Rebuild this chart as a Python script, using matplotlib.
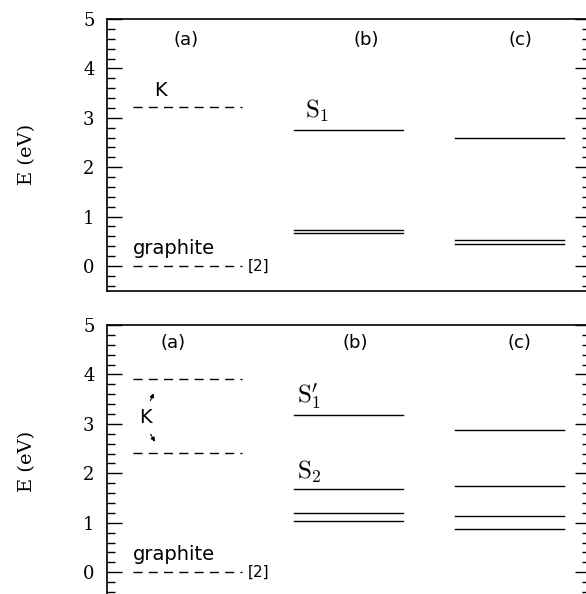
import matplotlib
matplotlib.use('Agg')
import matplotlib.pyplot as plt
from matplotlib.ticker import MultipleLocator

plt.rcParams['mathtext.fontset'] = 'cm'

# energy levels (eV)
top_a = [3.22, 0.0]            # K, graphite (dashed)
top_b = [2.75, 0.72, 0.66]     # S1 and the close pair
top_c = [2.60, 0.52, 0.45]

bot_a = [3.91, 2.41, 0.0]      # K (two), graphite (dashed)
bot_b = [3.17, 1.69, 1.19, 1.04]
bot_c = [2.88, 1.74, 1.13, 0.88]

col_centers = [0.5, 1.5, 2.5]
half_w = 0.34
panel_names = ['(a)', '(b)', '(c)']

fig = plt.figure(figsize=(5.86, 5.94), dpi=100)
ax1 = fig.add_axes([0.1826, 0.5106, 0.8244, 0.4574])
ax2 = fig.add_axes([0.1826, -0.005, 0.8244, 0.4579])

dash = (0, (6.5, 4.5))


def style(ax):
    ax.set_xlim(0, 3)
    ax.set_ylim(-0.5, 5)
    ax.yaxis.set_major_locator(MultipleLocator(1))
    ax.yaxis.set_minor_locator(MultipleLocator(0.2))
    ax.set_xticks([])
    ax.tick_params(axis='y', which='both', direction='in', left=True, right=True,
                   labelright=False, width=1.0)
    ax.tick_params(axis='y', which='major', length=11, pad=9, labelsize=13)
    ax.tick_params(axis='y', which='minor', length=5.5)
    for lab in ax.get_yticklabels():
        lab.set_fontfamily('DejaVu Serif')
    for s in ax.spines.values():
        s.set_linewidth(1.2)
    ax.set_ylabel('E (eV)', fontsize=14, family='DejaVu Serif', labelpad=34)


def levels(ax, xc, vals, dashed=False):
    for v in vals:
        ax.plot([xc - half_w, xc + half_w], [v, v], color='black', lw=1.0,
                linestyle=dash if dashed else '-')


# top panel
style(ax1)
levels(ax1, col_centers[0], top_a, dashed=True)
levels(ax1, col_centers[1], top_b)
levels(ax1, col_centers[2], top_c)
for x, name in zip([0.49, 1.61, 2.57], panel_names):
    ax1.text(x, 4.57, name, ha='center', va='center', fontsize=13)
ax1.text(0.33, 3.56, 'K', ha='center', va='center', fontsize=14)
ax1.text(0.16, 0.36, 'graphite', ha='left', va='center', fontsize=14)
ax1.text(0.875, 0.0, '[2]', ha='left', va='center', fontsize=11)
ax1.text(1.23, 3.14, r'$\mathrm{S}_1$', ha='left', va='center', fontsize=18)

# bottom panel
style(ax2)
levels(ax2, col_centers[0], bot_a, dashed=True)
levels(ax2, col_centers[1], bot_b)
levels(ax2, col_centers[2], bot_c)
for x, name in zip([0.41, 1.54, 2.56], panel_names):
    ax2.text(x, 4.64, name, ha='center', va='center', fontsize=13)
ax2.text(0.24, 3.12, 'K', ha='center', va='center', fontsize=14)
ax2.annotate('', xy=(0.297, 3.67), xytext=(0.262, 3.42),
             arrowprops=dict(arrowstyle='-|>', color='black', lw=0.8,
                             mutation_scale=6))
ax2.annotate('', xy=(0.306, 2.59), xytext=(0.262, 2.84),
             arrowprops=dict(arrowstyle='-|>', color='black', lw=0.8,
                             mutation_scale=6))
ax2.text(0.16, 0.36, 'graphite', ha='left', va='center', fontsize=14)
ax2.text(0.875, 0.0, '[2]', ha='left', va='center', fontsize=11)
ax2.text(1.18, 3.55, r"$\mathrm{S}_1'$", ha='left', va='center', fontsize=18)
ax2.text(1.18, 2.03, r'$\mathrm{S}_2$', ha='left', va='center', fontsize=18)

fig.savefig('out.png', dpi=100)
